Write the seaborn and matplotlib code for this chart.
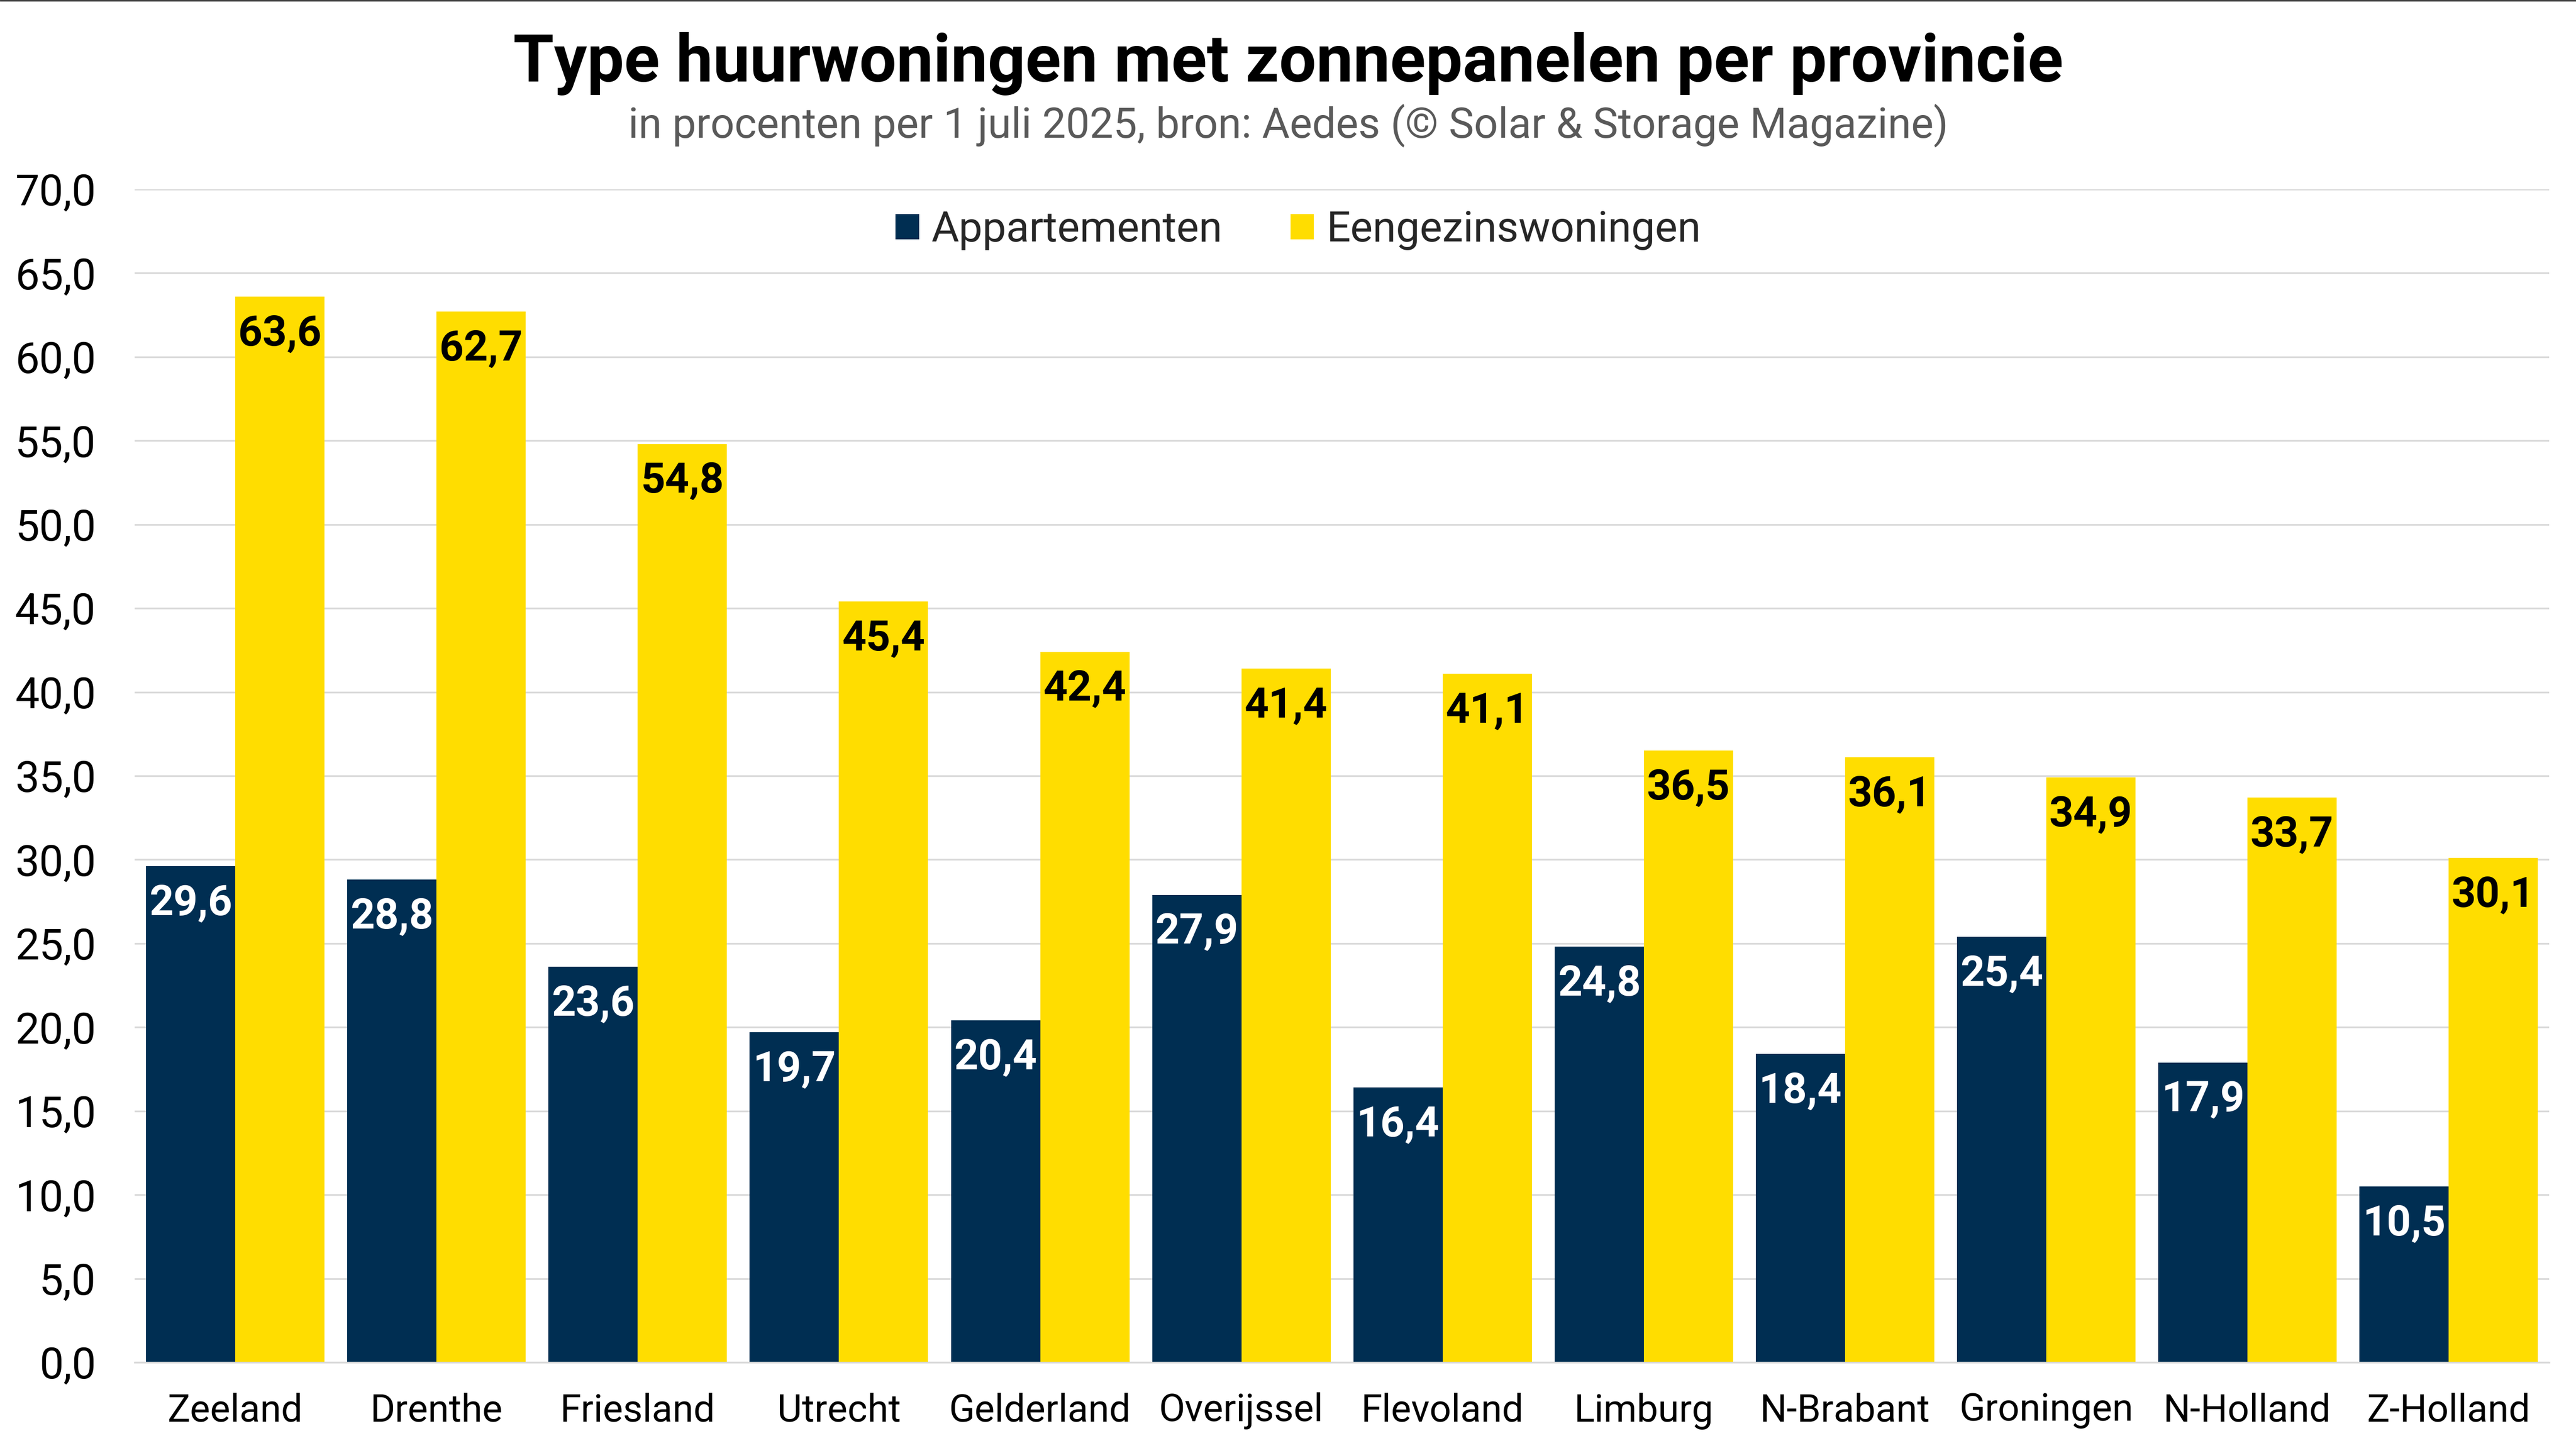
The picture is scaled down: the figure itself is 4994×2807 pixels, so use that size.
import numpy as np
import pandas as pd
import seaborn as sns
import matplotlib.pyplot as plt
from matplotlib.lines import Line2D
from matplotlib.ticker import FuncFormatter


provinces = ['Zeeland', 'Drenthe', 'Friesland', 'Utrecht', 'Gelderland', 'Overijssel',
             'Flevoland', 'Limburg', 'N-Brabant', 'Groningen', 'N-Holland', 'Z-Holland']
appartementen = [29.6, 28.8, 23.6, 19.7, 20.4, 27.9, 16.4, 24.8, 18.4, 25.4, 17.9, 10.5]
eengezins = [63.6, 62.7, 54.8, 45.4, 42.4, 41.4, 41.1, 36.5, 36.1, 34.9, 33.7, 30.1]
series = ['Appartementen', 'Eengezinswoningen']

df = pd.DataFrame({'provincie': provinces, series[0]: appartementen, series[1]: eengezins})
df_long = pd.melt(df, id_vars=['provincie'], value_vars=series,
                  var_name='type', value_name='pct')

palette = ['#002E52', '#FFDD00']
grid_col = '#D9D9D9'

sns.set_style('white')
plt.rcParams['font.family'] = ['Roboto', 'DejaVu Sans']

fig = plt.figure(figsize=(24.97, 14.035), dpi=200)
ax = fig.add_axes([0.0523, 0.0591, 0.9373, 0.8102])

sns.barplot(data=df_long, x='provincie', y='pct', hue='type', hue_order=series,
            palette=palette, width=0.887, gap=0, saturation=1, linewidth=0,
            ax=ax, zorder=2)

ax.set_ylim(0, 70)
ax.set_xlim(-0.5, len(provinces) - 0.5)
ax.set_yticks(np.arange(0, 70.1, 5))
ax.yaxis.set_major_formatter(FuncFormatter(lambda v, p: f'{v:.1f}'.replace('.', ',')))
ax.grid(axis='y', color=grid_col, lw=1.2, zorder=0)
ax.set_axisbelow(True)
ax.set_xlabel('')
ax.set_ylabel('')

for s in ['top', 'right', 'left']:
    ax.spines[s].set_visible(False)
ax.spines['bottom'].set_color(grid_col)
ax.spines['bottom'].set_linewidth(1.2)

# separators between provinces
ax.set_xticks(np.arange(-0.5, len(provinces), 1), minor=True)
ax.tick_params(axis='x', which='minor', length=9, width=1.2, color=grid_col)
ax.tick_params(axis='x', which='major', length=0, pad=21, labelsize=26.5, labelcolor='black')
ax.tick_params(axis='y', length=0, pad=27, labelsize=30, labelcolor='black')

# value labels inside the bars
for cont, col in zip(ax.containers, ['white', 'black']):
    for bar in cont:
        h = bar.get_height()
        ax.annotate(f'{h:.1f}'.replace('.', ','),
                    (bar.get_x() + bar.get_width() / 2, h),
                    xytext=(0, -12), textcoords='offset points',
                    ha='center', va='top', fontsize=29.5, fontweight='bold', color=col)

sns.move_legend(ax, 'center', bbox_to_anchor=(0.504, 0.841), bbox_transform=fig.transFigure,
                ncol=2, title=None, frameon=False, fontsize=29.5,
                handlelength=0.55, handleheight=0.55, handletextpad=0.3, columnspacing=1.6)

fig.text(0.5, 0.956, 'Type huurwoningen met zonnepanelen per provincie',
         ha='center', va='center', fontsize=46, fontweight='bold', color='black')
fig.text(0.5, 0.913, 'in procenten per 1 juli 2025, bron: Aedes (© Solar & Storage Magazine)',
         ha='center', va='center', fontsize=29.5, color='#595959')

fig.add_artist(Line2D([0, 1], [0.9995, 0.9995], transform=fig.transFigure, color='#333333', lw=1))

fig.savefig('out.png', dpi=200)
